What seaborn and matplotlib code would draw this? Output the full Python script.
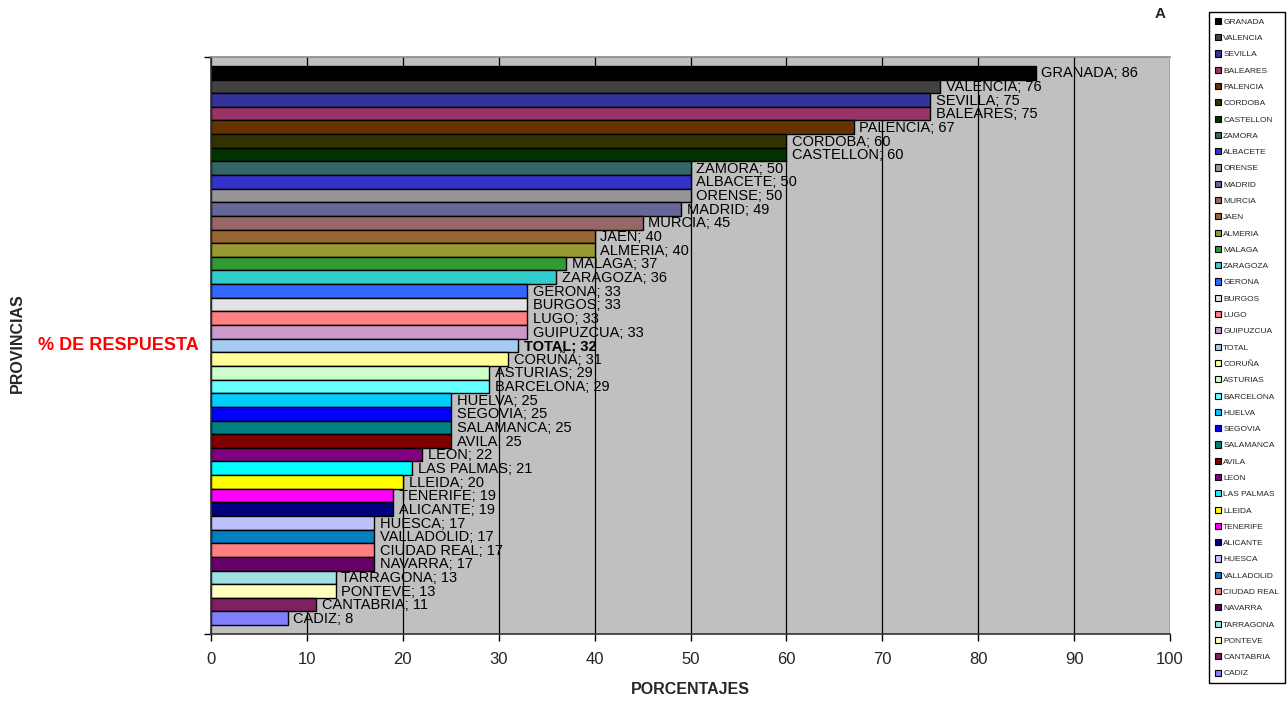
import matplotlib
matplotlib.use("Agg")
import matplotlib.pyplot as plt
from matplotlib.patches import Patch
import seaborn as sns

# Response rate by province (percent), in display order
provincias = [
    "GRANADA", "VALENCIA", "SEVILLA", "BALEARES", "PALENCIA", "CORDOBA",
    "CASTELLON", "ZAMORA", "ALBACETE", "ORENSE", "MADRID", "MURCIA", "JAEN",
    "ALMERIA", "MALAGA", "ZARAGOZA", "GERONA", "BURGOS", "LUGO", "GUIPUZCUA",
    "TOTAL", "CORUÑA", "ASTURIAS", "BARCELONA", "HUELVA", "SEGOVIA",
    "SALAMANCA", "AVILA", "LEON", "LAS PALMAS", "LLEIDA", "TENERIFE",
    "ALICANTE", "HUESCA", "VALLADOLID", "CIUDAD REAL", "NAVARRA",
    "TARRAGONA", "PONTEVE", "CANTABRIA", "CADIZ",
]
porcentajes = [
    86, 76, 75, 75, 67, 60, 60, 50, 50, 50, 49, 45, 40, 40, 37, 36, 33, 33,
    33, 33, 32, 31, 29, 29, 25, 25, 25, 25, 22, 21, 20, 19, 19, 17, 17, 17,
    17, 13, 13, 11, 8,
]
colores = [
    "#000000", "#424242", "#333399", "#993366", "#663300", "#333300",
    "#003300", "#336666", "#3333CC", "#969696", "#666699", "#996666",
    "#996633", "#999933", "#339933", "#33CCCC", "#3366FF", "#E3E3E3",
    "#FF8080", "#CC99CC", "#A6CAF0", "#FFFF99", "#CCFFCC", "#66FFFF",
    "#00CCFF", "#0000FF", "#008080", "#800000", "#800080", "#00FFFF",
    "#FFFF00", "#FF00FF", "#000080", "#C0C0FF", "#0080C0", "#FF8080",
    "#660066", "#A0E0E0", "#FFFFC0", "#802060", "#8080FF",
]
x_ticks = list(range(0, 101, 10))

sns.set_style("white")
plt.rcParams["font.family"] = ["Liberation Sans", "DejaVu Sans"]

fig = plt.figure(figsize=(12.87, 7.09), dpi=100)
ax = fig.add_axes([211 / 1287, 1 - 634 / 709, (1170 - 211) / 1287, (634 - 57) / 709])
ax.set_facecolor("#C0C0C0")

palette = dict(zip(provincias, colores))
sns.barplot(
    x=porcentajes, y=provincias, hue=provincias, order=provincias,
    palette=palette, legend=False, orient="h", width=1.0,
    edgecolor="black", linewidth=1.0, saturation=1, ax=ax,
)

# data labels "NAME; value" just past the end of each bar
for i, (nombre, valor) in enumerate(zip(provincias, porcentajes)):
    ax.text(valor + 0.6, i + 0.05, f"{nombre}; {valor}", va="center", ha="left",
            fontsize=10.5, color="black",
            fontweight="bold" if nombre == "TOTAL" else "normal")

n = len(provincias)
pad = 0.65
ax.set_ylim(n - 0.5 + pad, -0.5 - pad)
ax.set_xlim(0, 100)
ax.set_xticks(x_ticks)
ax.set_xticklabels([str(t) for t in x_ticks], fontsize=12)
ax.set_yticks([n - 0.5 + pad, -0.5 - pad])
ax.set_yticklabels(["", ""])
ax.tick_params(axis="both", direction="out", length=5, width=1, color="black", left=True, bottom=True)
ax.tick_params(axis="x", pad=8)
ax.set_ylabel("")
ax.set_axisbelow(True)
ax.xaxis.grid(True, color="black", linewidth=0.9)
ax.yaxis.grid(False)

for side in ["left", "bottom"]:
    ax.spines[side].set_color("#333333")
    ax.spines[side].set_linewidth(1.2)
ax.spines["top"].set_color("#8a8a8a")
ax.spines["top"].set_linewidth(1.2)
ax.spines["right"].set_visible(False)

ax.set_xlabel("PORCENTAJES", fontsize=11.5, fontweight="bold", labelpad=11)

fig.text(17 / 1287, 1 - 343 / 709, "PROVINCIAS", rotation=90, ha="center",
         va="center", fontsize=11.5, fontweight="bold")
fig.text(118 / 1287, 1 - 345 / 709, "% DE RESPUESTA", ha="center",
         va="center", fontsize=13, fontweight="bold", color="red")
fig.text(1160 / 1287, 1 - 14 / 709, "A", ha="center", va="center",
         fontsize=11, fontweight="bold")

handles = [Patch(facecolor=c, edgecolor="black", linewidth=0.8) for c in colores]
fig.legend(
    handles, provincias, loc="upper left",
    bbox_to_anchor=(1209 / 1287, 1 - 12 / 709), fontsize=6.0,
    handlelength=0.75, handleheight=0.75, handletextpad=0.25,
    labelspacing=1.0, borderpad=0.7, borderaxespad=0, frameon=True,
    fancybox=False, edgecolor="black", framealpha=1,
)

fig.savefig("out.png", dpi=100)
